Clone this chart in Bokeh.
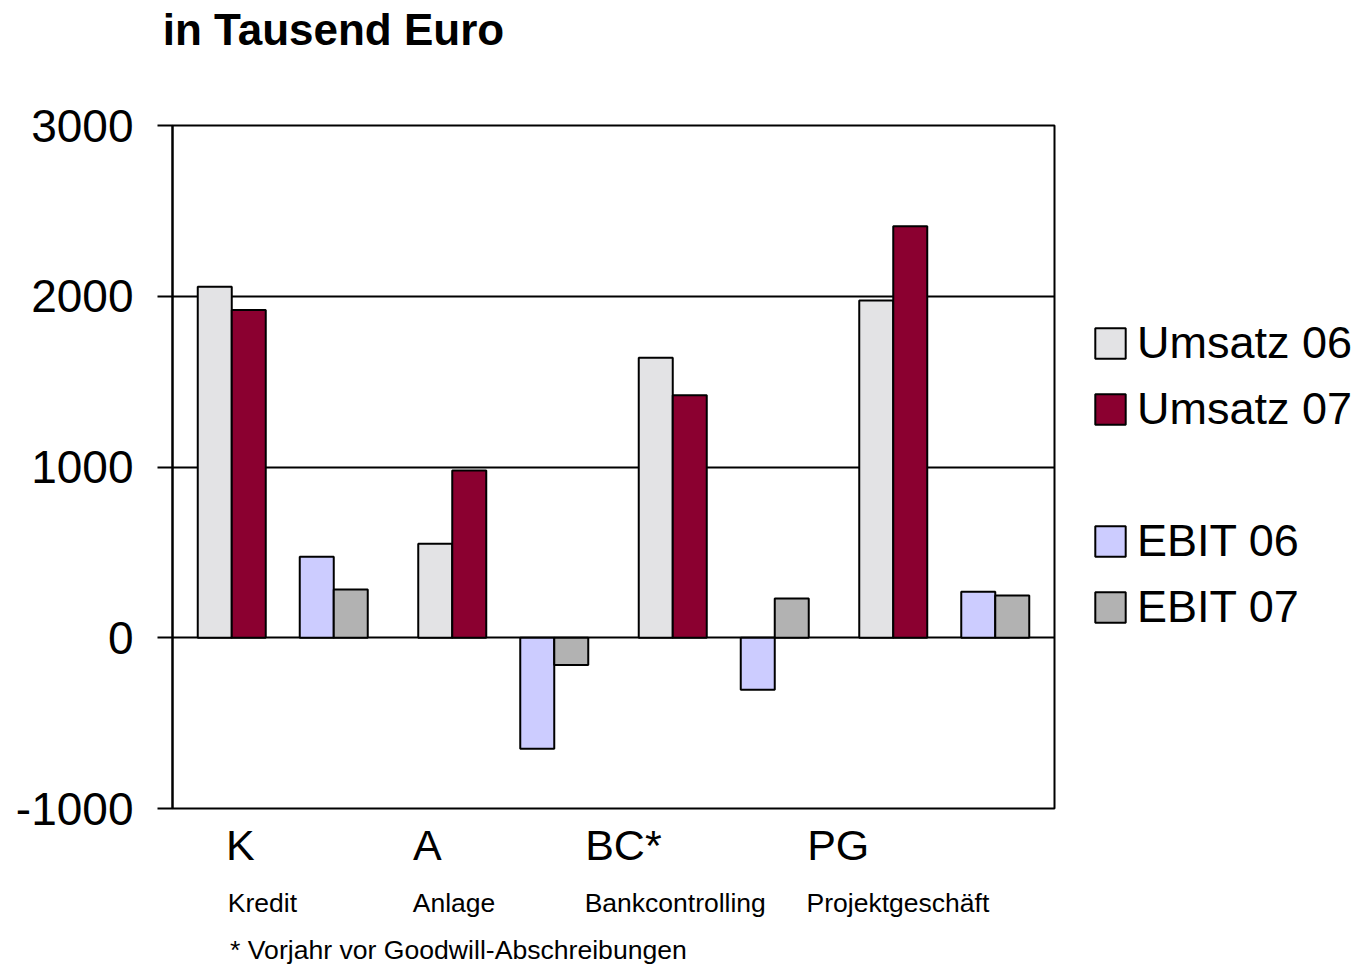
from bokeh.plotting import figure
from bokeh.layouts import row
from bokeh.models import (FactorRange, Range1d, FixedTicker, Legend, LegendItem,
                          ColumnDataSource, LinearAxis)
from bokeh.transform import dodge
from bokeh.embed import file_html
from bokeh.resources import INLINE

# ---- data ----
groups = ["K", "A", "BC*", "PG"]
group_names = ["Kredit", "Anlage", "Bankcontrolling", "Projektgeschäft"]
series_names = ["Umsatz 06", "Umsatz 07", "EBIT 06", "EBIT 07"]
umsatz_06 = [2055, 550, 1640, 1975]
umsatz_07 = [1920, 980, 1420, 2410]
ebit_06 = [475, -650, -305, 270]
ebit_07 = [282, -160, 230, 247]
y_ticks = [-1000, 0, 1000, 2000, 3000]
title_text = "in Tausend Euro"
footnote = "* Vorjahr vor Goodwill-Abschreibungen"

FONT = "Liberation Sans"
BW = 34 / 220.5  # bar width in category units

source = ColumnDataSource(dict(groups=groups, u06=umsatz_06, u07=umsatz_07,
                               e06=ebit_06, e07=ebit_07))

p = figure(x_range=FactorRange(factors=groups, range_padding=0, factor_padding=0),
           y_range=Range1d(-1000, 3000),
           width=1056, height=967,
           min_border_left=172, min_border_right=2,
           min_border_top=125, min_border_bottom=159,
           output_backend="svg", toolbar_location=None)

p.xaxis.visible = False
p.xgrid.visible = False
p.ygrid.ticker = FixedTicker(ticks=y_ticks)
p.ygrid.grid_line_color = "black"
p.ygrid.grid_line_width = 2
p.outline_line_color = "black"
p.outline_line_width = 2
p.outline_line_alpha = 1
p.background_fill_color = "white"
p.border_fill_color = "white"

ya = p.yaxis[0]
ya.ticker = FixedTicker(ticks=y_ticks)
ya.major_label_overrides = {-1000: "-1000"}
ya.major_label_text_font = FONT
ya.major_label_text_font_size = "46px"
ya.major_label_text_color = "black"
ya.major_tick_out = 15
ya.major_tick_in = 0
ya.minor_tick_out = 0
ya.minor_tick_in = 0
ya.axis_line_width = 2
ya.axis_line_color = "black"
ya.major_tick_line_width = 2
ya.major_tick_line_color = "black"
ya.major_label_standoff = 24

colors = {"u06": "#E3E3E5", "u07": "#8B0030", "e06": "#CCCCFF", "e07": "#B2B2B2"}
keys = ["u06", "u07", "e06", "e07"]
offsets = {"u06": -2 * BW, "u07": -1 * BW, "e06": 1 * BW, "e07": 2 * BW}
for key in keys:
    p.vbar(x=dodge("groups", offsets[key], range=p.x_range),
           top=key, bottom=0, width=BW, source=source,
           fill_color=colors[key], line_color="black", line_width=2)


def text_axis(ticks, texts, size, standoff, side="below", style="normal"):
    ax = LinearAxis(ticker=FixedTicker(ticks=ticks),
                    major_label_overrides={t: s for t, s in zip(ticks, texts)},
                    major_label_text_font=FONT,
                    major_label_text_font_size=size,
                    major_label_text_font_style=style,
                    major_label_text_color="black",
                    major_label_standoff=standoff,
                    major_tick_out=0, major_tick_in=0,
                    minor_tick_out=0, minor_tick_in=0,
                    axis_line_color=None)
    p.add_layout(ax, side)
    return ax


# title row above the frame
text_axis([0.730], [title_text], "44px", 72, side="above", style="bold")
# category label rows (tick positions = centres of the text boxes)
text_axis([0.308, 1.156, 2.045, 3.019], groups, "43px", 12)
text_axis([0.408, 1.277, 2.280, 3.290], group_names, "26.5px", 16)
text_axis([1.297], [footnote], "26.6px", 14)

# ---- legend panel on the right ----
q = figure(width=304, height=967, x_range=Range1d(0, 1), y_range=Range1d(0, 1),
           min_border_left=0, min_border_right=0, min_border_top=0,
           min_border_bottom=0, x_axis_location=None, y_axis_location=None,
           output_backend="svg", toolbar_location=None)
q.grid.visible = False
q.outline_line_color = None
q.background_fill_color = "white"
q.border_fill_color = "white"

# legend-only renderers (hidden; they only provide the swatch styles)
swatch = ColumnDataSource(dict(x=[0.5], top=[0.5]))
leg_rend = {}
for key in keys:
    leg_rend[key] = q.vbar(x="x", top="top", bottom=0, width=0.1, source=swatch,
                           fill_color=colors[key], line_color="black",
                           line_width=2, visible=False)
blank = q.vbar(x="x", top="top", bottom=0, width=0.1, source=swatch,
               fill_alpha=0, line_alpha=0, visible=False)

items = [LegendItem(label=series_names[0], renderers=[leg_rend["u06"]]),
         LegendItem(label=series_names[1], renderers=[leg_rend["u07"]]),
         LegendItem(label=" ", renderers=[blank]),
         LegendItem(label=series_names[2], renderers=[leg_rend["e06"]]),
         LegendItem(label=series_names[3], renderers=[leg_rend["e07"]])]

legend = Legend(items=items, location=(35, 175), orientation="vertical",
                label_text_font=FONT, label_text_font_size="45px",
                label_text_color="black",
                glyph_width=38, glyph_height=38, label_height=52, spacing=14,
                padding=0, margin=0, border_line_alpha=0,
                background_fill_alpha=0, label_standoff=8,
                inactive_fill_alpha=0)
q.add_layout(legend)

layout = row(p, q)
open("out.html", "w").write(file_html(layout, INLINE))
